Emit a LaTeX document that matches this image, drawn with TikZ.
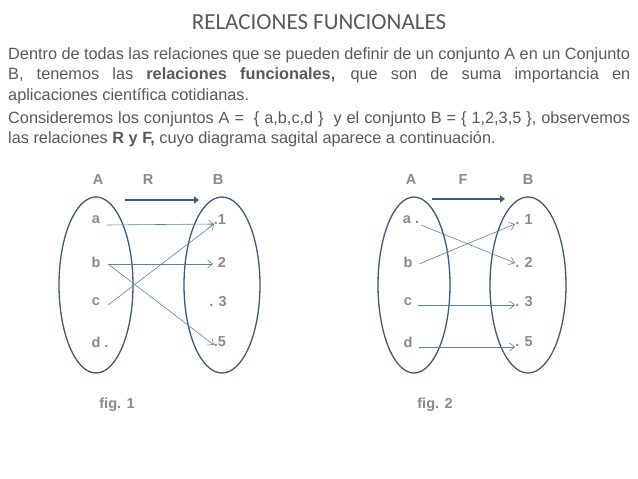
\documentclass[tikz,border=0pt]{standalone}
\usepackage{fontspec}
\setmainfont{Liberation Sans}
\newfontfamily\titlefont{Carlito}
\definecolor{txt}{HTML}{595959}
\definecolor{lbl}{HTML}{8A8A8A}
\definecolor{ell}{HTML}{3A5A80}
\definecolor{arr}{HTML}{5A80B0}
\tikzset{
 setell/.style={draw=ell,line width=1.3pt},
 elem/.style={text=lbl,font=\fontsize{14.5}{16}\selectfont\bfseries,inner sep=0pt},
 map/.style={draw=arr,line width=0.6pt,-{Straight Barb[length=5pt,width=8pt]}},
 big/.style={draw=ell,line width=2.2pt,-{Triangle[length=5pt,width=7pt]}},
}
\usetikzlibrary{arrows.meta}
\begin{document}
\begin{tikzpicture}[x=1pt,y=-1pt]
\useasboundingbox (0,0) rectangle (638,479);
\node (title) at (319,22) {\titlefont\fontsize{23}{26}\selectfont\color{txt}RELACIONES FUNCIONALES};
\node[anchor=north west,inner sep=0pt,text width=622pt,align=justify,text=txt,font=\fontsize{16.3}{20.7}\selectfont] (para) at (8,47)
{\hyphenpenalty=10000 Dentro de todas las relaciones que se pueden definir de un conjunto A en un Conjunto\linebreak B, tenemos las \textbf{relaciones funcionales,} que son de suma importancia en\linebreak aplicaciones científica cotidianas.\par\vspace{2pt}
Consideremos los conjuntos A = \ \{ a,b,c,d \}\ \ y el conjunto B = \{ 1,2,3,5 \}, observemos\linebreak las relaciones \textbf{R y F,} cuyo diagrama sagital aparece a continuación.};
% fig 1
\draw[setell] (96,285) ellipse (37 and 88);
\draw[setell] (222,285) ellipse (38 and 88);
\node[elem] (A1) at (98,180) {A};
\node[elem] (R) at (148,180) {R};
\node[elem] (B1) at (218,180) {B};
\coordinate (r1s) at (125,200); \coordinate (r1e) at (199,200);
\draw[big] (r1s) -- (r1e);
\node[elem] (a1) at (96,220) {a};
\node[elem] (b1) at (96,262) {b};
\node[elem] (c1) at (96,302) {c};
\node[elem] (d1) at (100,342) {d .};
\node[elem] (o1) at (220,220) {.1};
\node[elem] (t1) at (222,262) {2};
\node[elem] (h1) at (218,302) {. 3};
\node[elem] (f1) at (220,342) {.5};
\coordinate (pa1) at (107,225); \coordinate (pb1) at (108,264); \coordinate (pc1) at (108,305);
\coordinate (q11) at (214,224); \coordinate (q21) at (213,264); \coordinate (q51) at (214,345);
\draw[map] (pa1) -- (q11);
\draw[map] (pb1) -- (q21);
\draw[map] (pb1) -- (q51);
\draw[map] (pc1) -- (q11);
\node[elem] (fig1) at (117,405) {fig. 1};
% fig 2
\draw[setell] (414,285) ellipse (36 and 88);
\draw[setell] (528,285) ellipse (38 and 88);
\node[elem] (A2) at (411,180) {A};
\node[elem] (F) at (463,180) {F};
\node[elem] (B2) at (528,180) {B};
\coordinate (r2s) at (432,199); \coordinate (r2e) at (505,199);
\draw[big] (r2s) -- (r2e);
\node[elem] (a2) at (411,220) {a .};
\node[elem] (b2) at (408,262) {b};
\node[elem] (c2) at (408,302) {c};
\node[elem] (d2) at (408,342) {d};
\node[elem] (o2) at (524,220) {. 1};
\node[elem] (t2) at (524,262) {. 2};
\node[elem] (h2) at (524,302) {. 3};
\node[elem] (f2) at (524,342) {. 5};
\coordinate (pa2) at (421,225); \coordinate (pb2) at (419,264); \coordinate (pc2) at (418,305); \coordinate (pd2) at (419,347);
\coordinate (q12) at (515,224); \coordinate (q22) at (515,263); \coordinate (q32) at (515,305); \coordinate (q52) at (515,347);
\draw[map] (pa2) -- (q22);
\draw[map] (pb2) -- (q12);
\draw[map] (pc2) -- (q32);
\draw[map] (pd2) -- (q52);
\node[elem] (fig2) at (435,405) {fig. 2};
\end{tikzpicture}
\end{document}
